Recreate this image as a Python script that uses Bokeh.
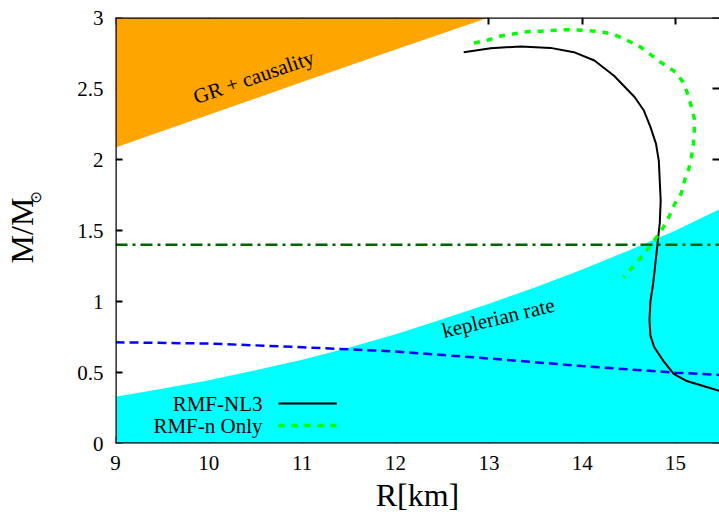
import numpy as np
from bokeh.plotting import figure
from bokeh.models import (Range1d, LinearAxis, Label, Legend, LegendItem, Title,
                          FixedTicker, Span, CustomLabelingPolicy)
from bokeh.embed import file_html
from bokeh.resources import INLINE

# ---------------- data ----------------
x_ticks = [9, 10, 11, 12, 13, 14, 15]
x_tick_labels = ["9", "10", "11", "12", "13", "14", "15"]
y_ticks = [0, 0.5, 1, 1.5, 2, 2.5, 3]
y_tick_labels = ["0", "0.5", "1", "1.5", "2", "2.5", "3"]

# GR + causality boundary (region above is excluded)
gr_r = [9.0, 10.0, 11.0, 12.0, 13.0]
gr_m = [2.085, 2.315, 2.545, 2.775, 3.0]

# keplerian rate boundary (region below is shaded)
kep_r = [9.0, 9.5, 10.0, 10.5, 11.0, 11.5, 12.0, 12.5, 13.0, 13.5, 14.0, 14.5, 15.0, 15.5]
kep_m = [0.33, 0.385, 0.445, 0.515, 0.59, 0.675, 0.77, 0.875, 0.985, 1.10, 1.225, 1.36, 1.50, 1.66]

# canonical 1.4 Msun line
canon_r = [9.0, 15.5]
canon_m = [1.4, 1.4]

# blue dashed line
blue_r = [9.0, 10.0, 11.0, 12.0, 13.0, 14.0, 15.0, 15.5]
blue_m = [0.713, 0.704, 0.678, 0.648, 0.599, 0.545, 0.499, 0.482]

# RMF-NL3 mass-radius curve
nl3_r = [12.73, 13.02, 13.34, 13.66, 13.91, 14.13, 14.34, 14.56, 14.66, 14.73, 14.79,
         14.82, 14.84, 14.83, 14.81, 14.78, 14.76, 14.73, 14.72, 14.73, 14.77, 14.87,
         14.98, 15.12, 15.27, 15.47, 15.6]
nl3_m = [2.756, 2.784, 2.796, 2.786, 2.756, 2.697, 2.59, 2.44, 2.345, 2.23, 2.11,
         1.99, 1.71, 1.55, 1.43, 1.25, 1.13, 1.00, 0.87, 0.76, 0.68, 0.58,
         0.49, 0.44, 0.41, 0.37, 0.35]

# RMF-n Only mass-radius curve
nonly_r = [12.84, 12.98, 13.13, 13.27, 13.41, 13.55, 13.66, 13.80, 13.91, 14.06, 14.20,
           14.34, 14.48, 14.63, 14.73, 14.84, 15.00, 15.08, 15.13, 15.17, 15.20, 15.20,
           15.19, 15.17, 15.14, 15.10, 15.06, 15.00, 14.91, 14.84, 14.77, 14.68, 14.59, 14.44]
nonly_m = [2.82, 2.84, 2.87, 2.885, 2.90, 2.904, 2.908, 2.913, 2.913, 2.908, 2.90,
           2.88, 2.84, 2.79, 2.74, 2.685, 2.615, 2.545, 2.46, 2.37, 2.29, 2.20,
           2.11, 2.02, 1.93, 1.86, 1.76, 1.70, 1.57, 1.49, 1.43, 1.35, 1.28, 1.17]

series_names = ["RMF-NL3", "RMF-n Only"]

FONT = "Liberation Serif"

p = figure(width=719, height=515, output_backend="svg", toolbar_location=None,
           x_range=Range1d(9, 15.47), y_range=Range1d(0, 3),
           min_border_left=115, min_border_top=17, min_border_bottom=72,
           min_border_right=0, outline_line_color=None)
p.grid.visible = False

# fills
p.varea(x=gr_r, y1=gr_m, y2=[3.0] * len(gr_r), fill_color="#ffa500")
p.varea(x=kep_r, y1=[0.0] * len(kep_r), y2=kep_m, fill_color="#00ffff")

# lines
p.line(canon_r, canon_m, line_color="#006400", line_width=2.5, line_dash="12 5 3 5")
p.line(blue_r, blue_m, line_color="#0000ff", line_width=2.5, line_dash="9 5")
r_nl3 = p.line(nl3_r, nl3_m, line_color="black", line_width=2)
r_non = p.line(nonly_r, nonly_m, line_color="#00ff00", line_width=3.5, line_dash="6 7")

# ---- labelled axes (labels only) ----
def label_axis(ax, ticks, labels):
    ax.ticker = FixedTicker(ticks=ticks)
    ax.major_label_overrides = dict(zip(ticks, labels))
    ax.axis_line_color = None
    ax.major_tick_line_color = None
    ax.minor_tick_line_color = None
    ax.major_tick_in = 0
    ax.major_tick_out = 0
    ax.minor_tick_in = 0
    ax.minor_tick_out = 0
    ax.major_label_text_font = FONT
    ax.major_label_text_font_size = "21px"
    ax.major_label_text_color = "black"
    ax.major_label_standoff = 12
    ax.axis_label_text_font = FONT
    ax.axis_label_text_font_style = "normal"
    ax.axis_label_text_color = "black"

xb = p.xaxis[0]
label_axis(xb, x_ticks, x_tick_labels)
xb.major_label_standoff = 12
xb.axis_label = "R[km]"
xb.axis_label_text_font_size = "32px"
xb.axis_label_standoff = 4

yl = p.yaxis[0]
label_axis(yl, y_ticks, y_tick_labels)
yl.axis_label = "M/M"
yl.axis_label_text_font_size = "32px"
yl.axis_label_standoff = 34

# ---- inward tick marks, painted beneath the shaded regions ----
def tick_axis(ticks):
    ax = LinearAxis(ticker=FixedTicker(ticks=ticks))
    ax.level = "underlay"
    ax.axis_line_color = None
    ax.major_tick_in = 7
    ax.major_tick_out = 0
    ax.minor_tick_in = 0
    ax.minor_tick_out = 0
    ax.major_tick_line_width = 2
    ax.major_tick_line_color = "black"
    ax.major_label_text_font_size = "0px"
    ax.major_label_standoff = 0
    ax.major_label_policy = CustomLabelingPolicy(code="return new indices.constructor(indices.size, 0)")
    return ax

p.below = [tick_axis(x_ticks)] + list(p.below)
p.left = [tick_axis(y_ticks)] + list(p.left)
p.add_layout(tick_axis(x_ticks), "above")
p.add_layout(tick_axis(y_ticks), "right")

# solar subscript of the y title (pulled back inside, next to "M/M")
t_sun = Title(text="\u2299", align="left", offset=240, standoff=-86,
              text_font="DejaVu Sans", text_font_size="15px",
              text_font_style="normal", text_color="black")
p.add_layout(t_sun, "left")

# visible borders (left, bottom, top)
for loc, dim in ((p.x_range.start, "height"), (p.y_range.start, "width"), (p.y_range.end, "width")):
    p.add_layout(Span(location=loc, dimension=dim, line_color="black", line_width=2.5))

# region labels
p.add_layout(Label(x=10.48, y=2.58, text="GR + causality", angle=np.deg2rad(19),
                   text_align="center", text_baseline="middle",
                   text_font=FONT, text_font_size="21px", text_color="black"))
p.add_layout(Label(x=13.10, y=0.885, text="keplerian rate", angle=np.deg2rad(13.5),
                   text_align="center", text_baseline="middle",
                   text_font=FONT, text_font_size="21px", text_color="black"))

# legend (gnuplot style: text to the left of the sample)
legend = Legend(items=[LegendItem(label=" ", renderers=[r_nl3]),
                       LegendItem(label=" ", renderers=[r_non])],
                location=(163, 7), padding=0, margin=0, spacing=0,
                glyph_width=59, glyph_height=22, label_height=22, label_width=0,
                label_standoff=0, border_line_color=None, background_fill_alpha=0,
                label_text_font_size="10px")
p.add_layout(legend)
for txt, yy in zip(series_names, (40, 18)):
    p.add_layout(Label(x=147, y=yy, x_units="screen", y_units="screen", text=txt,
                       text_align="right", text_baseline="middle",
                       text_font=FONT, text_font_size="21px", text_color="black"))

open("out.html", "w").write(file_html(p, INLINE))
